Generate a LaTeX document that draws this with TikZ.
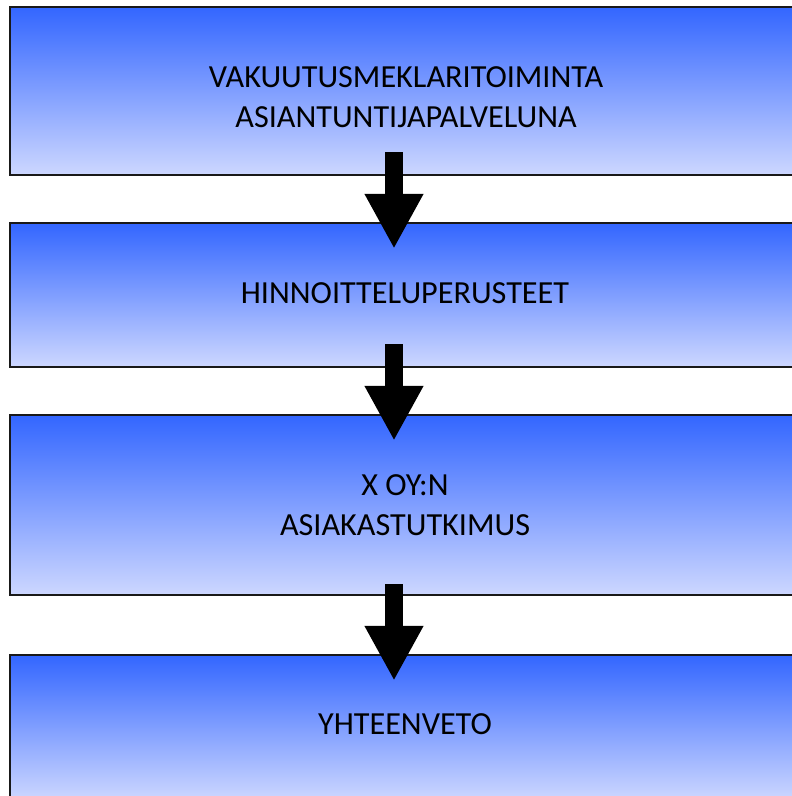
\documentclass[tikz,border=0pt]{standalone}
\usepackage{fontspec}
\setmainfont{Carlito}
\usetikzlibrary{arrows.meta}
\definecolor{boxtop}{RGB}{51,102,255}
\definecolor{boxbottom}{RGB}{205,215,255}
\tikzset{
  stagebox/.style={draw=black!90, line width=2.5pt, top color=boxtop, bottom color=boxbottom,
    minimum width=790pt, inner sep=0pt},
  stagetext/.style={align=center, font=\fontsize{32.2}{39.5}\selectfont, text=black, inner sep=0pt},
  flowarrow/.style={line width=18pt, black, -{Triangle[width=55pt,length=55pt]}}
}
\begin{document}
\begin{tikzpicture}[x=1pt,y=-1pt]
  \useasboundingbox (0,0) rectangle (792,796);
  \clip (0,0) rectangle (792,796);
  % stage boxes
  \node[stagebox, minimum height=168pt] (b1) at (405,91) {};
  \node[stagebox, minimum height=144pt] (b2) at (405,295) {};
  \node[stagebox, minimum height=180pt] (b3) at (405,505) {};
  \node[stagebox, minimum height=145pt] (b4) at (405,727.5) {};
  % box titles
  \node[stagetext] (t1) at (406,97) {VAKUUTUSMEKLARITOIMINTA\\ASIANTUNTIJAPALVELUNA};
  \node[stagetext] (t2) at (405,293) {HINNOITTELUPERUSTEET};
  \node[stagetext] (t3) at (405,505) {X OY:N\\ASIAKASTUTKIMUS};
  \node[stagetext] (t4) at (405,724) {YHTEENVETO};
  % block arrows between the stages
  \draw[flowarrow] ([xshift=-11pt,yshift=24pt]b1.south) -- ([xshift=-11pt,yshift=-27pt]b2.north);
  \draw[flowarrow] ([xshift=-11pt,yshift=24pt]b2.south) -- ([xshift=-11pt,yshift=-27pt]b3.north);
  \draw[flowarrow] ([xshift=-11pt,yshift=12pt]b3.south) -- ([xshift=-11pt,yshift=-27pt]b4.north);
\end{tikzpicture}
\end{document}
